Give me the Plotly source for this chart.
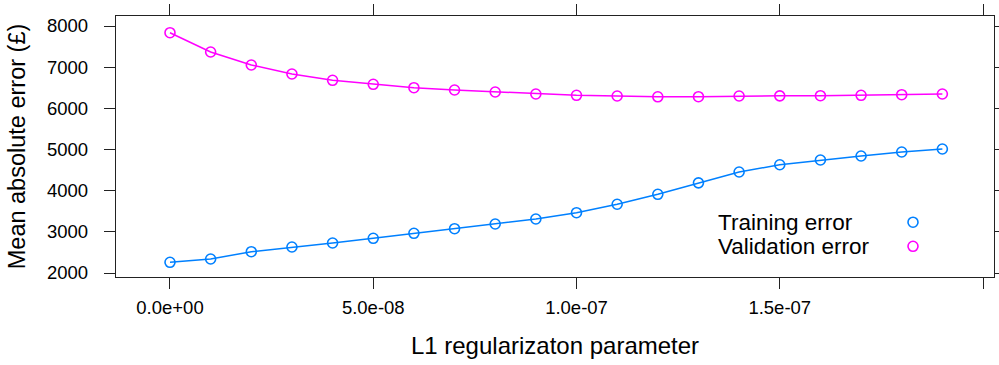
import plotly.graph_objects as go

lambdas = [i * 1e-8 for i in range(20)]
training_error = [2260, 2340, 2517, 2632, 2729, 2843, 2964, 3076, 3190, 3312,
                  3465, 3670, 3912, 4190, 4453, 4630, 4745, 4842, 4939, 5012]
validation_error = [7837, 7368, 7053, 6834, 6681, 6584, 6501, 6446, 6397, 6348,
                    6317, 6300, 6280, 6283, 6300, 6303, 6307, 6317, 6331, 6348]
series_names = ["Training error", "Validation error"]
series_colors = ["#0080ff", "#ff00ff"]
x_tickvals = [0, 5e-8, 1e-7, 1.5e-7, 2e-7]
x_ticktext = ["0.0e+00", "5.0e-08", "1.0e-07", "1.5e-07", ""]
y_tickvals = [2000, 3000, 4000, 5000, 6000, 7000, 8000]

FONT = "Liberation Sans, Arial, sans-serif"

fig = go.Figure()
for name, ys, col in zip(series_names, [training_error, validation_error], series_colors):
    fig.add_trace(go.Scatter(
        x=lambdas, y=ys, name=name, mode="lines+markers",
        line=dict(color=col, width=1.5),
        marker=dict(symbol="circle-open", size=10, color=col, line=dict(width=1.6, color=col)),
        showlegend=False,
    ))

W, H = 999, 365
L, R, T, B = 116, 5, 16, 88
pw = W - L - R
ph = H - T - B

def px_x(p):
    return (p - L) / pw

def px_y(p):
    return (H - B - p) / ph

legend_rows = [(series_names[0], series_colors[0], 222.2), (series_names[1], series_colors[1], 246.3)]
annotations = []
shapes = []
for name, col, ypix in legend_rows:
    annotations.append(dict(
        x=px_x(717), y=px_y(ypix), xref="paper", yref="paper",
        text=name, showarrow=False, xanchor="left", yanchor="middle",
        borderpad=0,
        font=dict(family=FONT, size=22.5, color="black"),
    ))
    shapes.append(dict(
        type="circle", xref="paper", yref="paper",
        xsizemode="pixel", ysizemode="pixel",
        xanchor=px_x(913), yanchor=px_y(ypix),
        x0=-5, x1=5, y0=-5, y1=5,
        line=dict(color=col, width=1.6),
    ))

axis_common = dict(
    showgrid=False, zeroline=False, showline=True, linecolor="#222222", linewidth=1.3,
    mirror="ticks", ticks="outside", ticklen=11, tickwidth=1.3, tickcolor="#222222",
    tickfont=dict(family=FONT, size=18.5, color="black"),
    automargin=False,
)

fig.update_layout(
    width=W, height=H,
    margin=dict(l=L, r=R, t=T, b=B, autoexpand=False),
    paper_bgcolor="white", plot_bgcolor="white",
    xaxis=dict(
        range=[-1.328e-8, 20.27e-8],
        tickvals=x_tickvals, ticktext=x_ticktext,
        title=dict(text="L1 regularizaton parameter", font=dict(family=FONT, size=24, color="black"), standoff=19),
        ticklabelstandoff=3,
        **axis_common,
    ),
    yaxis=dict(
        range=[1903, 8243],
        tickvals=y_tickvals,
        title=dict(text="Mean absolute error (£)", font=dict(family=FONT, size=23.5, color="black"), standoff=14),
        ticklabelstandoff=12,
        **axis_common,
    ),
    annotations=annotations,
    shapes=shapes,
)

fig.write_html("out.html")
